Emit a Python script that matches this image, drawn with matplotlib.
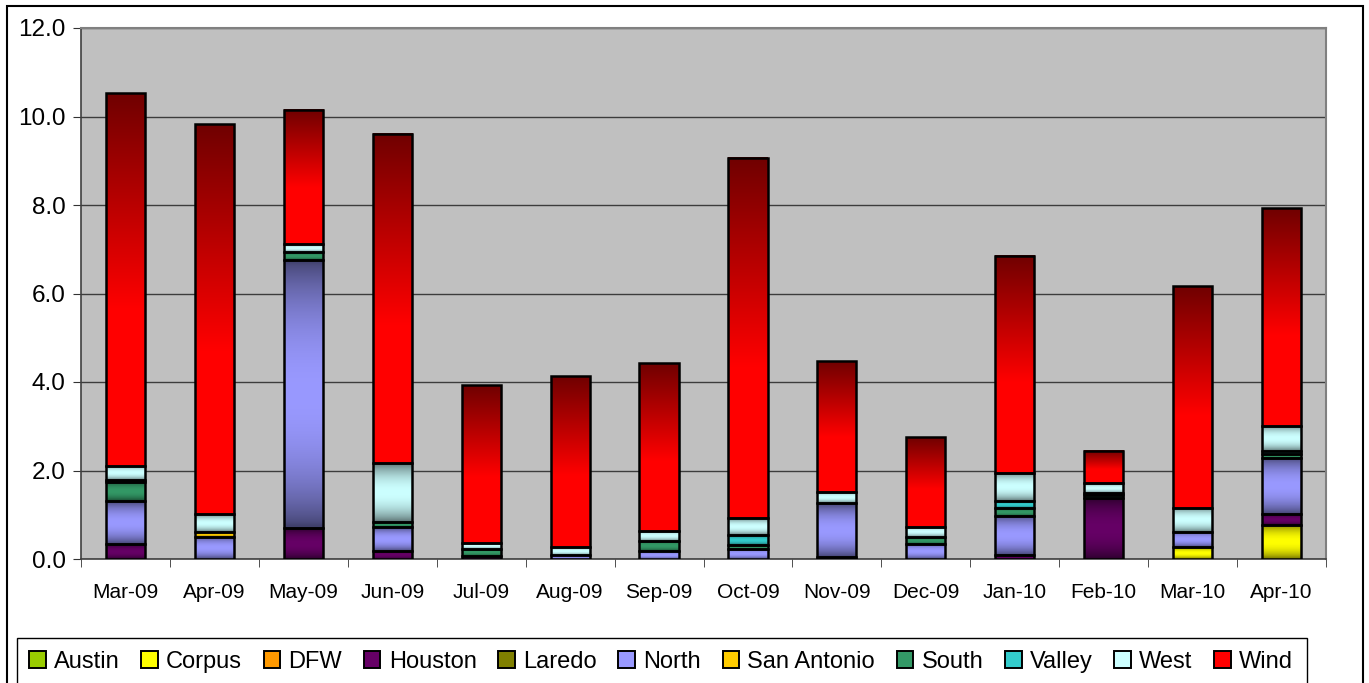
import matplotlib
matplotlib.use("Agg")
import matplotlib.pyplot as plt
import numpy as np
from matplotlib.patches import Rectangle, Patch

plt.rcParams['font.family'] = ['Liberation Sans', 'DejaVu Sans']

months = ['Mar-09', 'Apr-09', 'May-09', 'Jun-09', 'Jul-09', 'Aug-09', 'Sep-09',
          'Oct-09', 'Nov-09', 'Dec-09', 'Jan-10', 'Feb-10', 'Mar-10', 'Apr-10']

# stacked bottom to top, in legend order
austin      = [0, 0, 0, 0, 0, 0, 0, 0, 0, 0, 0, 0, 0, 0]
corpus      = [0, 0, 0, 0, 0, 0, 0, 0, 0, 0, 0, 0, 0.26, 0.77]
dfw         = [0, 0, 0, 0, 0, 0, 0, 0, 0, 0, 0, 0, 0, 0]
houston     = [0.33, 0, 0.69, 0.19, 0.07, 0, 0, 0, 0.05, 0, 0.09, 1.37, 0, 0.24]
laredo      = [0, 0, 0, 0, 0, 0, 0, 0, 0, 0, 0, 0, 0, 0]
north       = [0.97, 0.50, 6.07, 0.54, 0, 0.10, 0.17, 0.23, 1.21, 0.35, 0.89, 0, 0.34, 1.28]
san_antonio = [0, 0.12, 0, 0, 0, 0, 0, 0, 0, 0, 0, 0, 0, 0]
south       = [0.45, 0, 0.17, 0.10, 0.16, 0, 0.24, 0.09, 0, 0.15, 0.17, 0.08, 0, 0.08]
valley      = [0.03, 0, 0, 0, 0, 0, 0, 0.22, 0, 0, 0.15, 0.04, 0, 0.06]
west        = [0.33, 0.40, 0.18, 1.33, 0.14, 0.18, 0.23, 0.38, 0.26, 0.23, 0.64, 0.22, 0.56, 0.58]
wind        = [8.42, 8.81, 3.04, 7.44, 3.56, 3.86, 3.79, 8.14, 2.95, 2.03, 4.91, 0.73, 5.01, 4.92]

series = [
    ('Austin', austin, '#99CC00'),
    ('Corpus', corpus, '#FFFF00'),
    ('DFW', dfw, '#FF9900'),
    ('Houston', houston, '#660066'),
    ('Laredo', laredo, '#808000'),
    ('North', north, '#9999FF'),
    ('San Antonio', san_antonio, '#FFCC00'),
    ('South', south, '#339966'),
    ('Valley', valley, '#33CCCC'),
    ('West', west, '#CCFFFF'),
    ('Wind', wind, '#FF0000'),
]


def band_gradient(color, n=64):
    # dark at both edges, light in the middle
    c = np.array(matplotlib.colors.to_rgb(color))
    t = np.linspace(0, 1, n)
    f = 0.42 + 0.58 * np.sin(np.pi * t) ** 0.7
    return (f[:, None] * c[None, :])[:, None, :]


def wind_gradient(color, n=128):
    # solid bright red in the lower part, fading to dark red at the top
    c = np.array(matplotlib.colors.to_rgb(color))
    t = np.linspace(0, 1, n)  # 0 = bottom
    f = np.where(t < 0.42, 1.0, 1.0 - 0.56 * (t - 0.42) / 0.58)
    return (f[:, None] * c[None, :])[:, None, :]


fig = plt.figure(figsize=(13.69, 6.83), dpi=100)
ax = fig.add_axes([81 / 1369, 1 - 559 / 683, 1245 / 1369, 531 / 683])
ax.set_facecolor('#C0C0C0')

x = np.arange(len(months))
width = 0.44
bottom = np.zeros(len(months))
for name, vals, color in series:
    vals = np.array(vals, dtype=float)
    img = wind_gradient(color) if name == 'Wind' else band_gradient(color)
    for i in range(len(months)):
        if vals[i] <= 0:
            continue
        x0, x1 = x[i] - width / 2, x[i] + width / 2
        y0, y1 = bottom[i], bottom[i] + vals[i]
        ax.imshow(img, extent=(x0, x1, y0, y1), origin='lower', aspect='auto',
                  interpolation='bilinear', zorder=3)
        ax.add_patch(Rectangle((x0, y0), width, vals[i], facecolor='none',
                               edgecolor='black', linewidth=1.8, zorder=4))
    bottom += vals

ax.set_xlim(-0.5, len(months) - 0.5)
ax.set_ylim(0, 12)
ax.set_yticks(np.arange(0, 12.1, 2))
ax.set_yticklabels(['%.1f' % v for v in np.arange(0, 12.1, 2)], fontsize=17.5)
ax.set_xticks(x)
ax.set_xticklabels(months, fontsize=15)
ax.set_xticks(np.arange(-0.5, len(months), 1), minor=True)
ax.tick_params(axis='x', which='major', length=0, pad=17)
ax.tick_params(axis='x', which='minor', length=6, direction='out', color='#333333')
ax.tick_params(axis='y', length=6, direction='out', pad=5, color='#333333')
ax.grid(axis='y', color='#3c3c3c', linewidth=1, zorder=1)
ax.set_axisbelow(True)
for side in ['top', 'right']:
    ax.spines[side].set_color('#808080')
    ax.spines[side].set_linewidth(1.5)
for side in ['left', 'bottom']:
    ax.spines[side].set_color('#404040')
    ax.spines[side].set_linewidth(1.2)

# outer chart border and legend frame
fig.patches.append(Rectangle((7 / 1369, -0.05), 1356 / 1369, 1 - 6 / 683 + 0.05,
                             transform=fig.transFigure, facecolor='none',
                             edgecolor='black', linewidth=1.5))
fig.patches.append(Rectangle((17 / 1369, -0.05), 1290 / 1369, 1 - 638 / 683 + 0.05,
                             transform=fig.transFigure, facecolor='none',
                             edgecolor='black', linewidth=1))

handles = [Patch(facecolor=c, edgecolor='black', linewidth=1.4) for _, _, c in series]
labels = [n for n, _, _ in series]
fig.legend(handles, labels, ncol=len(series), loc='center left',
           bbox_to_anchor=(29 / 1369, 1 - 662 / 683), frameon=False, fontsize=17,
           handlelength=0.7, handleheight=0.7, handletextpad=0.35,
           columnspacing=0.92, borderpad=0, borderaxespad=0)

fig.savefig('out.png', dpi=100)
